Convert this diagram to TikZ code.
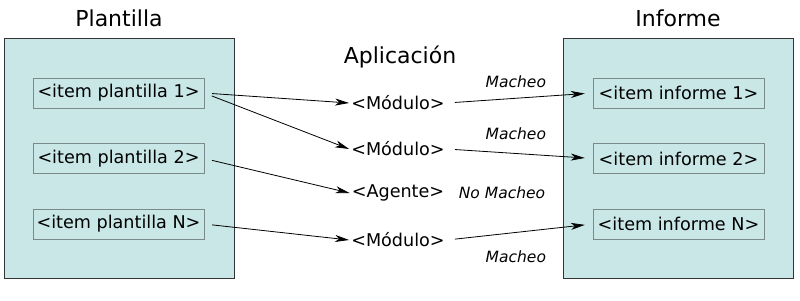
\documentclass[tikz,border=0pt]{standalone}
\usepackage{fontspec}
\setmainfont{DejaVu Sans}
\usetikzlibrary{positioning,arrows.meta}
\definecolor{tealbg}{HTML}{C9E7E7}
\definecolor{edgegray}{HTML}{7A8A8A}

\begin{document}
\begin{tikzpicture}[
      x=1pt, y=-1pt,
      panel/.style={draw=black!80, fill=tealbg, minimum width=230pt, minimum height=240pt, inner sep=0pt},
      item/.style={draw=edgegray, fill=tealbg, minimum width=171pt, minimum height=30pt,
                   inner sep=0pt, font=\fontsize{17.6}{20}\selectfont},
      title/.style={font=\fontsize{22}{26}\selectfont},
      app/.style={inner sep=2pt, font=\fontsize{17.6}{20}\selectfont},
      lbl/.style={font=\itshape\fontsize{15.5}{18}\selectfont, xshift=-4pt},
      arr/.style={-{Stealth[length=14pt, width=7pt, inset=4pt]}, line width=0.8pt, shorten <=8pt}
    ]
    \useasboundingbox (0,0) rectangle (800,300);
    % template side
    \node[panel] (plant) at (119,158) {};
    \node[title] (tplant) at (119,18) {Plantilla};
    \node[item] (pl1) at (118.5,93) {<item plantilla 1>};
    \node[item] (pl2) at (118.5,158.5) {<item plantilla 2>};
    \node[item] (plN) at (118.5,224) {<item plantilla N>};
    % report side
    \node[panel] (inf) at (678,158) {};
    \node[title] (tinf) at (678,18) {Informe};
    \node[item] (inf1) at (678.5,93) {<item informe 1>};
    \node[item] (inf2) at (678.5,158.5) {<item informe 2>};
    \node[item] (infN) at (678.5,224) {<item informe N>};
    % application
    \node[title] (tapp) at (400,57) {Aplicación};
    \node[app] (mod1) at (398,103) {<Módulo>};
    \node[app] (mod2) at (398,149) {<Módulo>};
    \node[app] (agente) at (398,193) {<Agente>};
    \node[app] (modN) at (398,240) {<Módulo>};
    \draw[arr] (pl1.east) -- (mod1.west);
    \draw[arr] (pl1.east) -- (mod2.west);
    \draw[arr] (pl2.east) -- (agente.west);
    \draw[arr] (plN.east) -- (modN.west);
    \draw[arr, shorten >=8pt] (mod1.east) -- node[lbl, above=7pt, pos=0.5]{Macheo} (inf1.west);
    \draw[arr, shorten >=8pt] (mod2.east) -- node[lbl, above=10pt, pos=0.5]{Macheo} (inf2.west);
    \node[lbl, xshift=4pt] (nomach) at (502,193) {No Macheo};
    \draw[arr, shorten >=8pt] (modN.east) -- node[lbl, below=15pt, pos=0.5]{Macheo} (infN.west);
  \end{tikzpicture}
\end{document}
